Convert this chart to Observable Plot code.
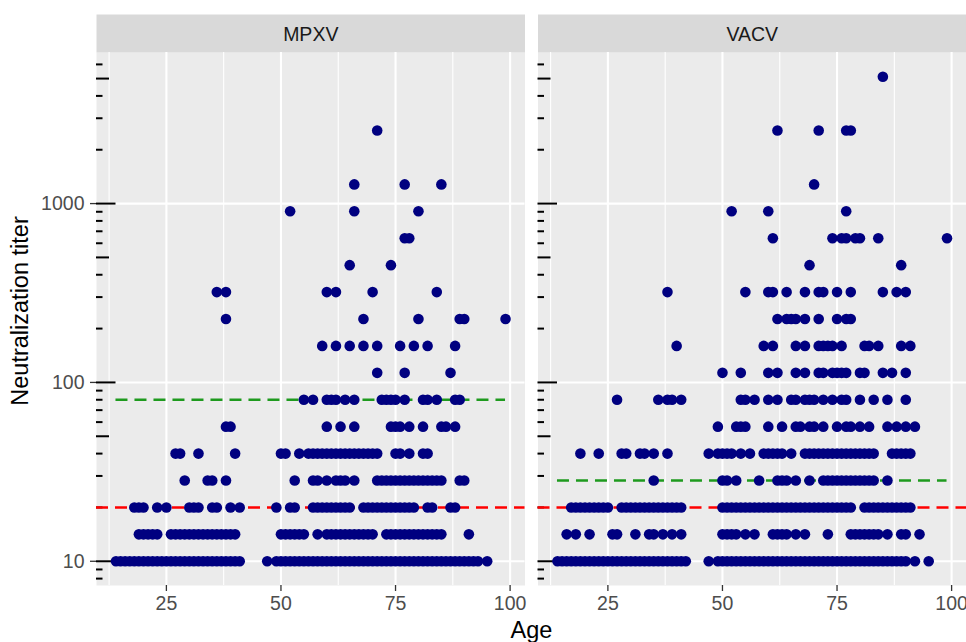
<!DOCTYPE html>
<html>
<head>
<meta charset="utf-8">
<script src="https://cdn.jsdelivr.net/npm/d3@7"></script>
<script src="https://cdn.jsdelivr.net/npm/@observablehq/plot@0.6"></script>
<style>
  html, body { margin: 0; padding: 0; background: #ffffff; overflow: hidden; }
</style>
</head>
<body>
<div id="chart"></div>
<script>
// ---- data ----
const panels = ["MPXV", "VACV"];
const titerLevels = [10, 14.14, 20, 28.28, 40, 56.57, 80, 113.1, 160, 226.3, 320, 452.5, 640, 905.1, 1280, 2560, 5120];

// ages of the points in each titer row (index matches titerLevels)
const mpxvAges = [
  [14,15,16,17,18,19,20,21,22,23,24,25,26,27,28,29,30,31,32,33,34,35,36,37,38,39,40,41,47,49,50,51,52,53,54,55,56,57,58,59,60,61,62,63,64,65,66,67,68,69,70,71,72,73,74,75,76,77,78,79,80,81,82,83,84,85,86,87,88,89,90,91,92,93,95],
  [19,20,21,22,23,26,27,28,29,30,31,32,33,34,35,36,37,38,39,40,50,51,52,53,54,55,58,60,61,62,63,64,65,66,67,68,69,70,73,74,75,76,77,78,79,80,81,82,83,84,85,91],
  [18,19,20,23,25,30,31,32,35,36,39,41,49,52,53,57,58,59,60,61,62,63,64,65,68,69,70,71,72,73,74,75,76,77,78,79,82,83,87,88],
  [29,34,35,38,53,57,58,60,62,63,64,66,71,72,73,74,75,76,77,78,79,80,81,82,83,84,85,89,90],
  [27,28,32,40,50,51,54,56,57,58,59,60,61,62,63,64,65,66,67,68,69,70,71,75,76,78,81,82],
  [38,39,60,63,66,74,75,76,78,81,85,86,88],
  [55,57,60,61,62,64,66,72,73,74,75,77,81,82,84,88,89],
  [71,77,87],
  [59,62,65,68,71,76,79,82,88],
  [38,68,80,89,90,99],
  [36,38,60,62,70,84],
  [65,74],
  [77,78],
  [52,66,80],
  [66,77,85],
  [71],
  []
];
const vacvAges = [
  [14,15,16,17,18,19,20,21,22,23,24,25,26,27,28,29,30,31,32,33,34,35,36,37,38,39,40,41,42,47,49,50,51,52,53,54,55,56,57,58,59,60,61,62,63,64,65,66,67,68,69,70,71,72,73,74,75,76,77,78,79,80,81,82,83,84,85,86,87,88,89,90,92,95],
  [16,18,21,26,27,31,34,35,37,39,41,50,51,52,53,55,57,61,62,63,64,66,68,73,78,79,80,81,82,83,84,86,89,90,93],
  [17,18,19,20,21,22,23,24,25,28,29,30,31,32,33,34,35,36,37,38,39,40,41,50,51,52,53,54,55,56,57,58,59,60,61,62,63,64,65,66,67,68,69,70,71,72,73,74,75,76,77,78,81,82,83,84,85,86,87,88,89,90,91],
  [35,50,51,53,58,62,63,64,66,69,72,73,74,75,76,77,78,79,80,81,82,83,86],
  [19,23,28,29,32,33,35,38,47,49,50,51,52,54,56,59,60,61,62,63,65,68,69,70,71,72,73,74,75,76,77,78,79,80,81,82,83,87,88,89,90,91],
  [49,53,54,55,60,63,66,67,69,70,72,75,77,78,80,82,86,88,90,92],
  [27,36,38,39,41,54,55,57,60,62,65,66,68,69,70,72,74,76,77,80,83,86,90],
  [50,54,60,62,66,68,71,72,74,75,76,77,80,81,85,87,90],
  [40,59,61,66,68,71,72,73,74,76,81,82,84,89,91],
  [62,64,65,66,68,71,75,77,78],
  [38,55,60,61,64,68,71,72,75,78,85,88,90],
  [69,89],
  [61,74,76,77,79,80,84,99],
  [52,60,77],
  [70],
  [62,71,77,78],
  [85]
];

// reference lines
const cutoffTiter = 20;                 // red dashed line, both panels
const thresholdTiter = [80, 28.28];     // green dashed line per panel

// axes
const ageTicks = [25, 50, 75, 100];
const ageMinorGrid = [12.5, 37.5, 62.5, 87.5];
const titerTicks = [10, 100, 1000];
const titerTickLabels = ["10", "100", "1000"];
const logTicksLong = [10, 100, 1000];
const logTicksMid = [50, 500, 5000];
const logTicksShort = [8, 9, 20, 30, 40, 60, 70, 80, 90, 200, 300, 400, 600, 700, 800, 900, 2000, 3000, 4000, 6000];
const xTitle = "Age";
const yTitle = "Neutralization titer";

// ---- tidy table ----
const agesByPanel = [mpxvAges, vacvAges];
const points = [];
panels.forEach((p, i) => {
  agesByPanel[i].forEach((row, k) => row.forEach(a => points.push({panel: p, age: a, titer: titerLevels[k]})));
});
const thresholds = panels.map((p, i) => {
  const ages = points.filter(d => d.panel === p).map(d => d.age);
  return {panel: p, titer: thresholdTiter[i], x1: d3.min(ages), x2: d3.max(ages)};
});
const allAges = points.map(d => d.age);
const aMin = d3.min(allAges), aMax = d3.max(allAges);
const aPad = (aMax - aMin) * 0.05;
const lMin = Math.log10(d3.min(points, d => d.titer)), lMax = Math.log10(d3.max(points, d => d.titer));
const lPad = (lMax - lMin) * 0.05;

const W = 966, H = 642, MT = 52, MB = 57, ML = 96, MR = 0;
const innerH = H - MT - MB;
const font = "'Liberation Sans', Arial, Helvetica, sans-serif";

const chart = Plot.plot({
  width: W, height: H,
  marginTop: MT, marginBottom: MB, marginLeft: ML, marginRight: MR,
  style: {fontFamily: font, background: "#ffffff", overflow: "visible"},
  fx: {domain: panels, paddingInner: 13 / 441.5, paddingOuter: 0, round: false, axis: null, label: null},
  x: {domain: [aMin - aPad, aMax + aPad]},
  y: {type: "log", domain: [Math.pow(10, lMin - lPad), Math.pow(10, lMax + lPad)]},
  marks: [
    // panel background and strip
    Plot.frame({fill: "#EBEBEB", stroke: "none"}),
    Plot.frame({fill: "#D9D9D9", stroke: "none", insetTop: -38, insetBottom: innerH}),
    // grid
    Plot.ruleX(ageMinorGrid, {stroke: "#ffffff", strokeWidth: 1.1}),
    Plot.ruleX(ageTicks, {stroke: "#ffffff", strokeWidth: 2.1}),
    Plot.ruleY(titerTicks, {stroke: "#ffffff", strokeWidth: 2.1}),
    // log ticks inside each panel
    Plot.axisY(logTicksShort, {anchor: "left", tickSize: -6.5, fill: "none", stroke: "#000000", strokeWidth: 2, label: null, facetAnchor: null}),
    Plot.axisY(logTicksMid, {anchor: "left", tickSize: -13, fill: "none", stroke: "#000000", strokeWidth: 2, label: null, facetAnchor: null}),
    Plot.axisY(logTicksLong, {anchor: "left", tickSize: -19.5, fill: "none", stroke: "#000000", strokeWidth: 2, label: null, facetAnchor: null}),
    // reference lines
    Plot.ruleY([cutoffTiter], {stroke: "#FF0000", strokeWidth: 2.4, strokeDasharray: "12,7"}),
    Plot.ruleY(thresholds, {fx: "panel", y: "titer", x1: "x1", x2: "x2", stroke: "#1E9A1E", strokeWidth: 2.4, strokeDasharray: "12,7"}),
    // points
    Plot.dot(points, {fx: "panel", x: "age", y: "titer", r: 5.3, fill: "#000080", stroke: "none"}),
    // axes
    Plot.axisX(ageTicks, {anchor: "bottom", tickSize: 6, tickPadding: 5, fontSize: 19.5, fill: "#4D4D4D", stroke: "#333333", strokeWidth: 1.3, label: null}),
    Plot.axisY(titerTicks, {anchor: "left", tickSize: 6, tickPadding: 6, fontSize: 19.5, fill: "#4D4D4D", stroke: "#333333", strokeWidth: 1.3, label: null,
      tickFormat: (d) => titerTickLabels[titerTicks.indexOf(d)]}),
    // strip labels
    Plot.text(panels, {fx: d => d, text: d => d, frameAnchor: "top", dy: -17.5, lineAnchor: "middle", fontSize: 19.5, fill: "#1A1A1A"}),
    // axis titles
    Plot.text([yTitle], {fx: () => panels[0], text: d => d, frameAnchor: "left", rotate: -90, dx: -76, dy: -8, lineAnchor: "middle", textAnchor: "middle", fontSize: 23.5, fill: "#000000"}),
    Plot.text([xTitle], {fx: () => panels[0], text: d => d, frameAnchor: "bottom-right", dx: 6.5, dy: 45, lineAnchor: "middle", textAnchor: "middle", fontSize: 23.5, fill: "#000000"})
  ]
});
document.getElementById("chart").appendChild(chart);
</script>
</body>
</html>
